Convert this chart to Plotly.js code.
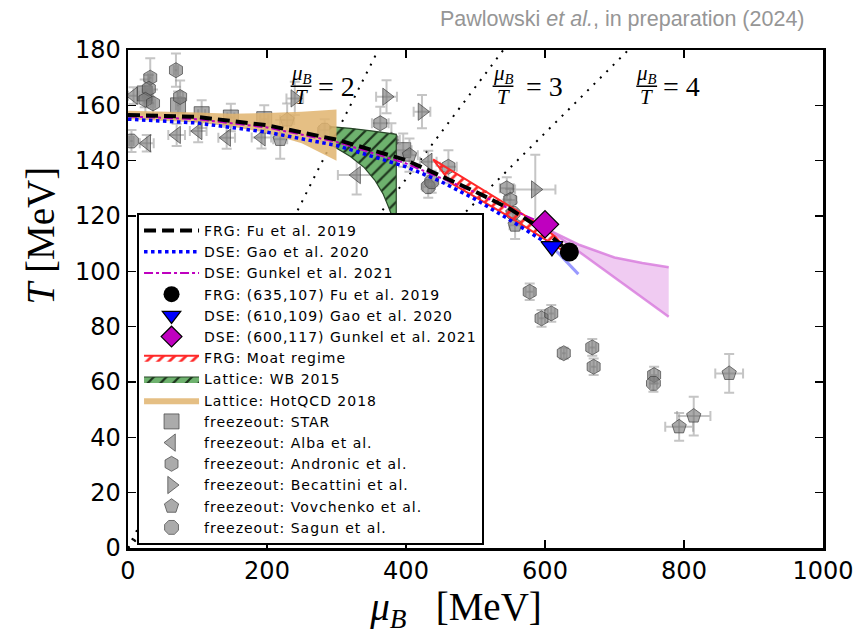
<!DOCTYPE html>
<html>
<head>
<meta charset="utf-8">
<script src="https://cdn.plot.ly/plotly-3.0.1.min.js"></script>
<style>html,body{margin:0;padding:0;background:#fff}#plot{width:858px;height:642px}
.legendtext{letter-spacing:1px}</style>
</head>
<body>
<div id="plot"></div>
<script>
// ---------- data ----------
const fuMu = [0,100,200,300,400,500,550,600,635];
const fuT  = [156.5,155.8,152.8,147.6,140.2,128.8,122.5,114.5,107];
const gaoMu = [0,100,200,300,400,450,500,550,610];
const gaoT  = [155,153.6,150.3,145.5,137.8,132.5,126,118.5,109];
const gaoExtMu = [610,648];
const gaoExtT  = [109,99];
const gunkelMu = [0,100,200,300,400,500,550,600];
const gunkelT  = [156,155,152,146.8,139,128.5,122.5,117];
const cepFu = {mu:[635], T:[107]};
const cepGao = {mu:[610], T:[109]};
const cepGunkel = {mu:[600], T:[117]};
const gunkelBandUpMu = [600,611,650,700,740,778];
const gunkelBandUpT  = [117,114.3,109.5,105,103,101.5];
const gunkelBandLoMu = [778,600];
const gunkelBandLoT  = [83.6,116];
const moatUpMu = [439,480,520,560,590,615,632];
const moatUpT  = [140.5,134.2,128.2,122.2,117.3,112.5,107.5];
const moatLoMu = [632,600,550,500,465,439];
const moatLoT  = [106.5,111.5,119.5,126.8,131.8,140.5];
const wbUpMu = [290,320,350,386];
const wbUpT  = [152.3,151.7,150.8,149.5];
const wbLoMu = [386,382,376,367,355,340,320,290];
const wbLoT  = [117,118.5,122.5,128,133,137.5,141.5,146];
const hotUpMu = [0,50,100,150,200,250,300];
const hotUpT  = [158,157.8,157.4,157,157.2,157.7,158.5];
const hotLoMu = [300,250,200,150,100,50,0];
const hotLoT  = [140,146.3,150,152.3,153.8,154.5,155];
const ratios = [2,3,4];

// freezeout
const starMu = [24,72,106,148,196,396];
const starT  = [164.3,160,156.8,155.6,155,143.8];
const starEx = [3,3,5,5,6,12];
const starEy = [5,5,5,5,5,6];
const albaMu = [8,27,70,101,142,192,329,432];
const albaT  = [163.5,146.3,149.3,150.7,148.3,148.4,134.8,139.6];
const albaEx = [8,10,12,12,12,14,27,12];
const albaEy = [3,3,4,4,4,4,7,4];
const andMu = [32,69,30,25,36,75,363,379,461,545,550,578,595,609,627,668,670,757];
const andT  = [170,172.7,166,162,160.7,163,153.5,147.5,137.8,130,125.8,92.6,83,84.8,70.4,72.5,65.5,62.5];
const andEx = [3,3,3,3,3,4,12,12,12,10,8,6,5,5,4,5,5,6];
const andEy = [7,6,5,5,5,6,6,6,6,4,4,3,3,3,2,3,3,3];
const becMu = [240,372,423,586];
const becT  = [162.5,163.1,157.7,129.6];
const becEx = [12,15,12,29];
const becEy = [6,6,6,12.5];
const vovMu = [229,219,405,557,814,793,865];
const vovT  = [154.7,147.7,142,116.7,47.7,43.8,63.1];
const vovEx = [10,10,12,8,24,20,20];
const vovEy = [6,7,6,5,7,5,7];
const sagMu = [5,283,432,437,554,756];
const sagT  = [147.1,151,130.6,132.4,121,59.5];
const sagEx = [3,8,8,8,6,5];
const sagEy = [4,4,4,4,4,3];

// ---------- traces ----------
const traces = [];
ratios.forEach(r => {
  traces.push({x:[0,180*r], y:[0,180], mode:'lines', showlegend:false, hoverinfo:'skip',
    line:{color:'black', width:2, dash:'2px,7px'}});
});

const fzMarker = (sym) => ({symbol:sym, size:15, color:'rgba(115,115,115,0.6)',
  line:{color:'rgba(55,55,55,0.65)', width:1}});
const eb = (arr) => ({type:'data', array:arr, visible:true, color:'rgba(150,150,150,0.55)', thickness:2, width:5});
function fz(name, mu, T, ex, ey, sym, rank){
  traces.push({x:mu, y:T, mode:'markers', name:name, legendrank:rank,
    marker:fzMarker(sym), error_x:eb(ex), error_y:eb(ey)});
}
fz('freezeout: STAR', starMu, starT, starEx, starEy, 'square', 10);
fz('freezeout: Alba et al.', albaMu, albaT, albaEx, albaEy, 'triangle-left', 11);
fz('freezeout: Andronic et al.', andMu, andT, andEx, andEy, 'hexagon', 12);
fz('freezeout: Becattini et al.', becMu, becT, becEx, becEy, 'triangle-right', 13);
fz('freezeout: Vovchenko et al.', vovMu, vovT, vovEx, vovEy, 'pentagon', 14);
fz('freezeout: Sagun et al.', sagMu, sagT, sagEx, sagEy, 'octagon', 15);

// Lattice WB 2015
traces.push({x:wbUpMu.concat(wbLoMu), y:wbUpT.concat(wbLoT), mode:'lines', fill:'toself',
  name:'Lattice: WB 2015', legendrank:8, fillcolor:'rgb(110,178,110)',
  fillpattern:{shape:'/', fgcolor:'rgba(20,40,20,0.9)', bgcolor:'rgb(110,178,110)', size:9, solidity:0.25},
  line:{color:'rgb(40,70,40)', width:1.2}});
// HotQCD 2018
traces.push({x:hotUpMu.concat(hotLoMu), y:hotUpT.concat(hotLoT), mode:'lines', fill:'toself',
  name:'Lattice: HotQCD 2018', legendrank:9, fillcolor:'rgba(225,180,110,0.85)',
  line:{color:'rgba(225,180,110,0)', width:0}});
// Gunkel extension band
traces.push({x:gunkelBandUpMu.concat(gunkelBandLoMu), y:gunkelBandUpT.concat(gunkelBandLoT), mode:'lines', fill:'toself',
  showlegend:false, hoverinfo:'skip', fillcolor:'rgba(228,160,232,0.55)', line:{width:0, color:'rgba(0,0,0,0)'}});
traces.push({x:gunkelBandUpMu, y:gunkelBandUpT, mode:'lines', showlegend:false, hoverinfo:'skip',
  line:{color:'rgba(215,120,220,0.8)', width:2.5}});
traces.push({x:gunkelBandLoMu, y:gunkelBandLoT, mode:'lines', showlegend:false, hoverinfo:'skip',
  line:{color:'rgba(215,120,220,0.8)', width:2.5}});
// Moat
traces.push({x:moatUpMu.concat(moatLoMu), y:moatUpT.concat(moatLoT), mode:'lines', fill:'toself',
  name:'FRG: Moat regime', legendrank:7, fillcolor:'rgba(255,255,255,0)',
  fillpattern:{shape:'/', fgcolor:'rgb(255,40,40)', bgcolor:'rgba(255,255,255,0)', size:8, solidity:0.35},
  line:{color:'rgb(255,40,40)', width:2}});
// lines
traces.push({x:gunkelMu, y:gunkelT, mode:'lines', name:'DSE: Gunkel et al. 2021', legendrank:3,
  line:{color:'rgb(191,0,191)', width:2, dash:'dashdot'}});
traces.push({x:gaoMu, y:gaoT, mode:'lines', name:'DSE: Gao et al. 2020', legendrank:2,
  line:{color:'rgb(0,0,255)', width:3.5, dash:'dot'}});
traces.push({x:gaoExtMu, y:gaoExtT, mode:'lines', showlegend:false, hoverinfo:'skip',
  line:{color:'rgba(110,110,255,0.7)', width:3}});
traces.push({x:fuMu, y:fuT, mode:'lines', name:'FRG: Fu et al. 2019', legendrank:1,
  line:{color:'black', width:4, dash:'12px,6px'}});
// CEPs
traces.push({x:cepFu.mu, y:cepFu.T, mode:'markers', name:'FRG: (635,107) Fu et al. 2019', legendrank:4,
  marker:{symbol:'circle', size:19, color:'black'}});
traces.push({x:cepGao.mu, y:cepGao.T, mode:'markers', name:'DSE: (610,109) Gao et al. 2020', legendrank:5,
  marker:{symbol:'triangle-down', size:19, color:'rgb(0,0,255)', line:{color:'black', width:1.2}}});
traces.push({x:cepGunkel.mu, y:cepGunkel.T, mode:'markers', name:'DSE: (600,117) Gunkel et al. 2021', legendrank:6,
  marker:{symbol:'diamond', size:21, color:'rgb(191,0,191)', line:{color:'black', width:1.2}}});

// ---------- labels ----------
const serif = 'Liberation Serif, DejaVu Serif, serif';
const annotations = [];
const shapes = [];
const labelPos = [[249,300],[539.6,598.7],[746.3,795.8]];
ratios.forEach((r,i) => {
  const c = labelPos[i][0], e = labelPos[i][1];
  annotations.push({x:c, y:171.4, xref:'x', yref:'y', showarrow:false, text:'<i>μ</i><sub><i>B</i></sub>',
    font:{family:serif, size:21, color:'black'}});
  annotations.push({x:c, y:162.9, xref:'x', yref:'y', showarrow:false, text:'<i>T</i>',
    font:{family:serif, size:21, color:'black'}});
  annotations.push({x:e, y:166.9, xref:'x', yref:'y', showarrow:false, text:'= ' + r,
    font:{family:serif, size:28, color:'black'}});
  shapes.push({type:'line', xref:'x', yref:'y', x0:c-15, x1:c+15, y0:166.9, y1:166.9,
    line:{color:'black', width:1.5}});
});
annotations.push({xref:'paper', yref:'paper', x:0.977, y:1.0, xanchor:'right', yanchor:'bottom', yshift:17,
  showarrow:false, text:'Pawlowski <i>et al.</i>, in preparation (2024)',
  font:{family:'Liberation Sans, Arial, sans-serif', size:21.5, color:'rgb(150,150,150)'}});

const NB = '\u00a0', ZW = '\u200b';
const layout = {
  width:858, height:642,
  margin:{l:128, r:35, t:50, b:94},
  paper_bgcolor:'white', plot_bgcolor:'white',
  showlegend:true,
  legend:{x:0.013, y:0.006, xanchor:'left', yanchor:'bottom', bgcolor:'white',
    bordercolor:'black', borderwidth:2, font:{family:'DejaVu Sans, sans-serif', size:14, color:'black'},
    itemwidth:55, tracegroupgap:0},
  xaxis:{range:[0,1000], tickvals:[0,200,400,600,800,1000], ticks:'inside', ticklen:8, tickwidth:1.5,
    tickcolor:'black', mirror:'allticks', showline:true, linecolor:'black', linewidth:2.5,
    showgrid:false, zeroline:false, tickfont:{family:'DejaVu Sans, sans-serif', size:24, color:'black'},
    title:{text:'<i>μ</i><sub><i>B</i></sub>'+NB+NB+NB+'[MeV]'+NB.repeat(4)+ZW, font:{family:serif, size:39, color:'black'}, standoff:6}},
  yaxis:{range:[0,180], tickvals:[0,20,40,60,80,100,120,140,160,180], ticks:'inside', ticklen:8, tickwidth:1.5,
    tickcolor:'black', mirror:'allticks', showline:true, linecolor:'black', linewidth:2.5,
    showgrid:false, zeroline:false, tickfont:{family:'DejaVu Sans, sans-serif', size:24, color:'black'},
    title:{text:ZW+NB.repeat(13)+'<i>T</i>'+NB+'[MeV]', font:{family:serif, size:39, color:'black'}, standoff:8}},
  annotations:annotations, shapes:shapes
};
Plotly.newPlot('plot', traces, layout, {displayModeBar:false, staticPlot:true});
</script>
</body>
</html>
